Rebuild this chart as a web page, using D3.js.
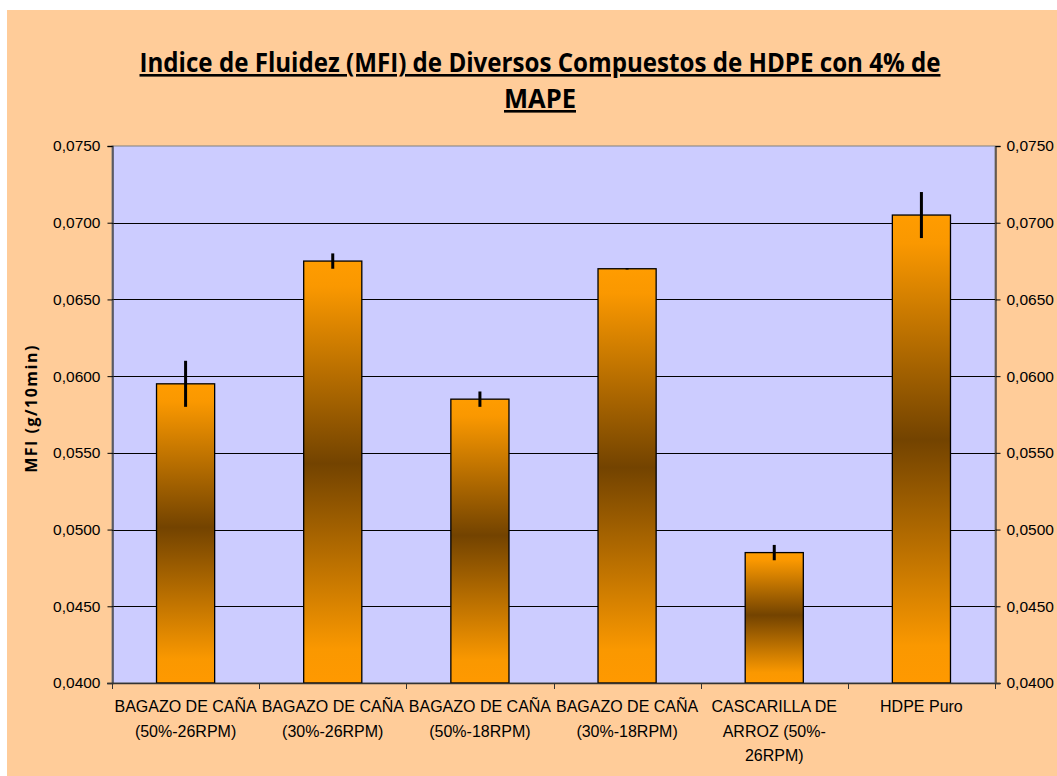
<!DOCTYPE html>
<html>
<head>
<meta charset="utf-8">
<script src="https://cdnjs.cloudflare.com/ajax/libs/d3/7.8.5/d3.min.js"></script>
<style>
  body { margin: 0; background: #fff; }
  svg { display: block; }
</style>
</head>
<body>
<svg id="svg1" width="1057" height="776"></svg>
<script>
// chart data
var categories = ["BAGAZO DE CAÑA\n(50%-26RPM)", "BAGAZO DE CAÑA\n(30%-26RPM)", "BAGAZO DE CAÑA\n(50%-18RPM)",
                  "BAGAZO DE CAÑA\n(30%-18RPM)", "CASCARILLA DE\nARROZ (50%-\n26RPM)", "HDPE Puro"];
var mfiValues = [0.0595, 0.0675, 0.0585, 0.0670, 0.0485, 0.0705];
var mfiErrors = [0.0015, 0.0005, 0.0005, 0.00005, 0.0005, 0.0015];
var yTicks = [0.0400, 0.0450, 0.0500, 0.0550, 0.0600, 0.0650, 0.0700, 0.0750];

var svg = d3.select('svg');

// page background
svg.append('rect')
    .attr('x', 7).attr('y', 10)
    .attr('width', 1057 - 7).attr('height', 776 - 10)
    .attr('fill', '#FFCC99');

var plotLeft = 112, plotRight = 995, plotTop = 146, plotBottom = 683;

var x = d3.scaleBand().domain(d3.range(categories.length)).range([plotLeft, plotRight]).padding(0);
var y = d3.scaleLinear().domain([0.040, 0.075]).range([plotBottom, plotTop]);
var fmt = function(d){ return d3.format('.4f')(d).replace('.', ','); };

// gradient for the bars (orange - brown - orange)
var grad = svg.append('defs').append('linearGradient')
    .attr('id', 'barGrad')
    .attr('x1', 0).attr('y1', 0).attr('x2', 0).attr('y2', 1);
grad.append('stop').attr('offset', '0%').attr('stop-color', '#FF9C00');
grad.append('stop').attr('offset', '6%').attr('stop-color', '#FA9800');
grad.append('stop').attr('offset', '48%').attr('stop-color', '#734300');
grad.append('stop').attr('offset', '92%').attr('stop-color', '#FA9800');
grad.append('stop').attr('offset', '100%').attr('stop-color', '#FF9900');

// plot area
svg.append('rect')
    .attr('x', plotLeft).attr('y', plotTop)
    .attr('width', plotRight - plotLeft).attr('height', plotBottom - plotTop)
    .attr('fill', '#CCCCFF')
    .attr('stroke', '#808080');

// gridlines
svg.append('g').selectAll('line')
    .data(yTicks.slice(1, -1))
    .enter().append('line')
    .attr('x1', plotLeft).attr('x2', plotRight)
    .attr('y1', function(d){ return Math.round(y(d)) + 0.5; })
    .attr('y2', function(d){ return Math.round(y(d)) + 0.5; })
    .attr('stroke', '#000')
    .attr('stroke-width', 1);

// left axis
var yLeft = svg.append('g')
    .attr('transform', 'translate(' + (plotLeft + 0.5) + ',0)')
    .call(d3.axisLeft(y).tickValues(yTicks).tickFormat(fmt).tickSize(5).tickPadding(7));
// right axis
var yRight = svg.append('g')
    .attr('transform', 'translate(' + (plotRight + 0.5) + ',0)')
    .call(d3.axisRight(y).tickValues(yTicks).tickFormat(fmt).tickSize(5).tickPadding(6));

[yLeft, yRight].forEach(function(g){
    g.select('.domain').attr('stroke', '#333').attr('stroke-width', 1.3);
    g.selectAll('.tick line').attr('stroke', '#000');
    g.selectAll('text')
        .style('font-family', '"Liberation Sans", Arial, sans-serif')
        .style('font-size', '15.5px')
        .attr('fill', '#000');
});

// bars
var barW = x.bandwidth() * 0.395;
svg.append('g').selectAll('rect')
    .data(mfiValues)
    .enter().append('rect')
    .attr('x', function(d, i){ return x(i) + x.bandwidth()/2 - barW/2; })
    .attr('y', function(d){ return y(d); })
    .attr('width', barW)
    .attr('height', function(d){ return plotBottom - y(d); })
    .attr('fill', 'url(#barGrad)')
    .attr('stroke', '#000')
    .attr('stroke-width', 1.3);

// error bars
svg.append('g').selectAll('line')
    .data(mfiValues)
    .enter().append('line')
    .attr('x1', function(d, i){ return x(i) + x.bandwidth()/2; })
    .attr('x2', function(d, i){ return x(i) + x.bandwidth()/2; })
    .attr('y1', function(d, i){ return y(d + mfiErrors[i]); })
    .attr('y2', function(d, i){ return y(d - mfiErrors[i]); })
    .attr('stroke', '#000')
    .attr('stroke-width', 3);

// x axis line and category ticks
svg.append('line')
    .attr('x1', plotLeft - 5).attr('x2', plotRight + 5)
    .attr('y1', plotBottom + 0.5).attr('y2', plotBottom + 0.5)
    .attr('stroke', '#333').attr('stroke-width', 1.3);
var bounds = d3.range(categories.length + 1).map(function(i){ return plotLeft + i * x.bandwidth(); });
svg.append('g').selectAll('line')
    .data(bounds)
    .enter().append('line')
    .attr('x1', function(d){ return Math.round(d) + 0.5; })
    .attr('x2', function(d){ return Math.round(d) + 0.5; })
    .attr('y1', plotBottom).attr('y2', plotBottom + 6)
    .attr('stroke', '#333');

// category labels
var lab = svg.append('g').selectAll('text')
    .data(categories)
    .enter().append('text')
    .attr('text-anchor', 'middle')
    .style('font-family', '"Liberation Sans", Arial, sans-serif')
    .style('font-size', '16px')
    .attr('fill', '#000');
lab.each(function(d, i){
    var t = d3.select(this);
    d.split('\n').forEach(function(line, k){
        t.append('tspan')
            .attr('x', x(i) + x.bandwidth()/2)
            .attr('y', 712 + k * 24.5)
            .text(line);
    });
});

// y axis title
svg.append('text')
    .attr('transform', 'translate(37,' + ((plotTop + plotBottom)/2 - 6) + ') rotate(-90)')
    .attr('text-anchor', 'middle')
    .style('font-family', '"Open Sans", "DejaVu Sans", sans-serif')
    .style('font-size', '16px')
    .style('font-weight', 'bold')
    .style('letter-spacing', '1.5px')
    .text('MFI (g/10min)');

// chart title
var titleLines = ['Indice de Fluidez (MFI) de Diversos Compuestos de HDPE con 4% de', 'MAPE'];
var titleLen = [801, 72];
titleLines.forEach(function(s, k){
    svg.append('text')
        .attr('x', 540).attr('y', 72 + k * 36)
        .attr('text-anchor', 'middle')
        .attr('textLength', titleLen[k])
        .attr('lengthAdjust', 'spacingAndGlyphs')
        .style('font-family', '"Open Sans", "DejaVu Sans", sans-serif')
        .style('font-size', '26px')
        .style('font-weight', 'bold')
        .style('text-decoration', 'underline')
        .text(s);
});
</script>
</body>
</html>
